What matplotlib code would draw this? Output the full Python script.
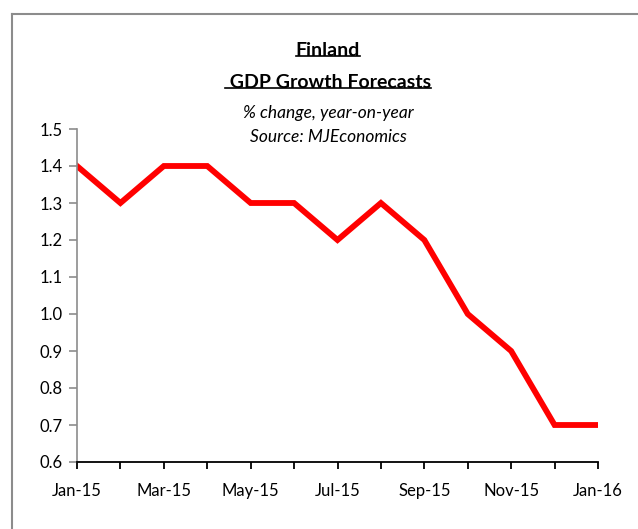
import matplotlib.pyplot as plt
from matplotlib.lines import Line2D

plt.rcParams['font.family'] = ['Lato', 'DejaVu Sans']

months = ['Jan-15', 'Feb-15', 'Mar-15', 'Apr-15', 'May-15', 'Jun-15', 'Jul-15',
          'Aug-15', 'Sep-15', 'Oct-15', 'Nov-15', 'Dec-15', 'Jan-16']
forecast = [1.4, 1.3, 1.4, 1.4, 1.3, 1.3, 1.2, 1.3, 1.2, 1.0, 0.9, 0.7, 0.7]
yticks = [0.6, 0.7, 0.8, 0.9, 1.0, 1.1, 1.2, 1.3, 1.4, 1.5]

W, H = 638, 529
fig = plt.figure(figsize=(W / 100, H / 100), dpi=100)
ax = fig.add_axes([77 / W, 1 - 462 / H, (598 - 77) / W, (462 - 129) / H])

x = list(range(len(months)))
ax.plot(x, forecast, color='#ff0000', lw=4.2, solid_joinstyle='miter')

ax.set_xlim(0, len(months) - 1)
ax.set_ylim(0.6, 1.5)
ax.set_yticks(yticks)
ax.set_yticklabels([f'{v:.1f}' for v in yticks], fontsize=12)
ax.set_xticks(x)
ax.set_xticklabels([m if i % 2 == 0 else '' for i, m in enumerate(months)], fontsize=12)

for s in ['top', 'right']:
    ax.spines[s].set_visible(False)
ax.spines['left'].set_color('#8c8c8c')
ax.spines['left'].set_linewidth(1.2)
ax.spines['bottom'].set_color('black')
ax.spines['bottom'].set_linewidth(1.3)
ax.tick_params(axis='y', direction='out', length=6, color='#8c8c8c', width=1.2, pad=4)
ax.tick_params(axis='x', direction='out', length=5, color='black', width=1.3, pad=10)

# titles
t1 = fig.text(328 / W, 1 - 50 / H, 'Finland', ha='center', va='center',
              fontsize=14, fontweight='bold')
t2 = fig.text(328 / W, 1 - 82 / H, ' GDP Growth Forecasts', ha='center', va='center',
              fontsize=14, fontweight='bold')
fig.text(328 / W, 1 - 113 / H, '% change, year-on-year', ha='center', va='center',
         fontsize=12.5, style='italic')
fig.text(328 / W, 1 - 137 / H, 'Source: MJEconomics', ha='center', va='center',
         fontsize=12.5, style='italic')

# underline the bold titles
r = fig.canvas.get_renderer()
for t in (t1, t2):
    bb = t.get_window_extent(renderer=r).transformed(fig.transFigure.inverted())
    yl = bb.y0 + 0.004
    fig.add_artist(Line2D([bb.x0, bb.x1], [yl, yl], transform=fig.transFigure,
                          color='black', lw=1.2))

# chart frame (top and left edges visible)
fig.add_artist(Line2D([12 / W, 1], [1 - 14 / H, 1 - 14 / H], transform=fig.transFigure,
                      color='#8c8c8c', lw=1.5))
fig.add_artist(Line2D([12 / W, 12 / W], [0, 1 - 14 / H], transform=fig.transFigure,
                      color='#8c8c8c', lw=1.5))

fig.savefig('out.png', dpi=100)
